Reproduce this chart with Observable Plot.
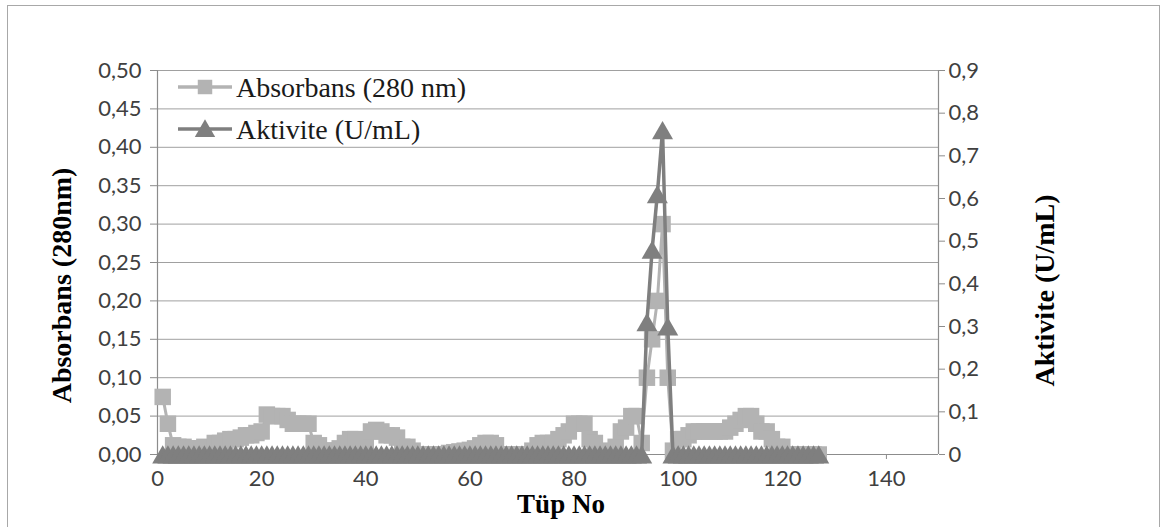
<!DOCTYPE html>
<html><head><meta charset="utf-8">
<script src="https://cdn.jsdelivr.net/npm/d3@7"></script>
<script src="https://cdn.jsdelivr.net/npm/@observablehq/plot@0.6"></script>
<style>
html,body{margin:0;padding:0;background:#fff;overflow:hidden;}
#wrap{position:relative;width:1165px;height:527px;}
#frame{position:absolute;left:7px;top:5px;width:1153px;height:545px;border:1.5px solid #a8a8a8;box-sizing:border-box;pointer-events:none;}
#chart{position:absolute;left:0;top:0;}
#legend{position:absolute;left:0;top:0;}
</style></head><body>
<div id="wrap"><div id="chart"></div><svg id="legend" width="520" height="160"></svg><div id="frame"></div></div>
<script>
const tubes = [
 1,2,3,4,5,6,7,8,9,10,
 11,12,13,14,15,16,17,18,19,20,
 21,22,23,24,25,26,27,28,29,30,
 31,32,33,34,35,36,37,38,39,40,
 41,42,43,44,45,46,47,48,49,50,
 51,52,53,54,55,56,57,58,59,60,
 61,62,63,64,65,66,67,68,69,70,
 71,72,73,74,75,76,77,78,79,80,
 81,82,83,84,85,86,87,88,89,90,
 91,92,93,94,95,96,97,98,99,100,
 101,102,103,104,105,106,107,108,109,110,
 111,112,113,114,115,116,117,118,119,120,
 121,122,123,124,125,126,127
];
const absorbans = [
 0.075,0.04,0.012,0.01,0.01,0.008,0.008,0.008,0.01,0,
 0.015,0.015,0.018,0.02,0.02,0.022,0.025,0.025,0.028,0.03,
 0.052,0.05,0.05,0.05,0.045,0.04,0.04,0.04,0.04,0.015,
 0.012,0.005,0.005,0.005,0.008,0.015,0.02,0.02,0.008,0.01,
 0.03,0.032,0.03,0.025,0.025,0.022,0.01,0.01,0.005,0,
 0,0,0,0,0,0.002,0.003,0.004,0.005,0.006,
 0.008,0.012,0.015,0.015,0.012,0,0,0,0,0,
 0,0.005,0.012,0.015,0.015,0.015,0.02,0.025,0.03,0.04,
 0.04,0.04,0.02,0.015,0,0,0.005,0.01,0.03,0.035,
 0.05,0.05,0.015,0.10,0.15,0.20,0.30,0.10,0.005,0.02,
 0.02,0.025,0.03,0.03,0.03,0.03,0.03,0.03,0.03,0.035,
 0.04,0.045,0.05,0.05,0.04,0.03,0.03,0.02,0.01,0.01,
 0,0,0,0,0,0,0
];
const aktivite = [
 0,0,0,0,0,0,0,0,0,0,
 0,0,0,0,0,0,0,0,0,0,
 0,0,0,0,0,0,0,0,0,0,
 0,0,0,0,0,0,0,0,0,0,
 0,0,0,0,0,0,0,0,0,0,
 0,0,0,0,0,0,0,0,0,0,
 0,0,0,0,0,0,0,0,0,0,
 0,0,0,0,0,0,0,0,0,0,
 0,0,0,0,0,0,0,0,0,0,
 0,0,0,0.31,0.48,0.61,0.76,0.30,0,0,
 0,0,0,0,0,0,0,0,0,0,
 0,0,0,0,0,0,0,0,0,0,
 0,0,0,0,0,0,0
];
const seriesNames = ["Absorbans (280 nm)", "Aktivite (U/mL)"];
const leftTicks = [0,0.05,0.10,0.15,0.20,0.25,0.30,0.35,0.40,0.45,0.50];
const leftTickLabels = ["0,00","0,05","0,10","0,15","0,20","0,25","0,30","0,35","0,40","0,45","0,50"];
const rightTicks = [0,0.1,0.2,0.3,0.4,0.5,0.6,0.7,0.8,0.9];
const rightTickLabels = ["0","0,1","0,2","0,3","0,4","0,5","0,6","0,7","0,8","0,9"];
const xTicks = [0,20,40,60,80,100,120,140];
const xTitle = "Tüp No";
const yLeftTitle = "Absorbans (280nm)";
const yRightTitle = "Aktivite (U/mL)";

const leftMax = 0.5, rightMax = 0.9;
const toLeft = v => v * leftMax / rightMax;

const absData = tubes.map((t, i) => ({t, v: absorbans[i]}));
const actData = tubes.map((t, i) => ({t, v: toLeft(aktivite[i])}));

const cAbs = "#b3b3b3", cAct = "#7f7f7f";
const tickFont = "Lato, 'Open Sans', sans-serif";
const titleFont = "'Liberation Serif', 'Times New Roman', serif";

const chart = Plot.plot({
  width: 1165, height: 527,
  marginLeft: 157, marginRight: 227, marginTop: 70, marginBottom: 73,
  style: {fontFamily: tickFont, fontSize: "22px", background: "transparent", overflow: "visible"},
  x: {domain: [0, 150]},
  y: {domain: [0, leftMax]},
  marks: [
    Plot.gridY(leftTicks, {stroke: "#a0a0a0", strokeOpacity: 1, strokeWidth: 1}),
    Plot.ruleX([0], {stroke: "#8c8c8c", strokeWidth: 1.2}),
    Plot.ruleX([150], {stroke: "#8c8c8c", strokeWidth: 1.2}),
    Plot.ruleY([0], {stroke: "#8c8c8c", strokeWidth: 1.2}),
    Plot.axisY(leftTicks, {anchor: "left", tickSize: 7, tickPadding: 9, stroke: "#8c8c8c", fill: "#404040",
      tickFormat: (d) => leftTickLabels[leftTicks.indexOf(d)], label: null, fontSize: 22}),
    Plot.axisY(rightTicks.map(toLeft), {anchor: "right", tickSize: 6, tickPadding: 4, stroke: "#8c8c8c", fill: "#404040",
      tickFormat: (d, i) => rightTickLabels[i], label: null, fontSize: 22}),
    Plot.axisX(xTicks, {anchor: "bottom", tickSize: 5, tickPadding: 11, stroke: "#8c8c8c", fill: "#404040", label: null, fontSize: 22}),
    Plot.line(absData, {x: "t", y: "v", stroke: cAbs, strokeWidth: 3}),
    Plot.dot(absData, {x: "t", y: "v", symbol: "square", r: 9.3, fill: cAbs, stroke: "none"}),
    Plot.line(actData, {x: "t", y: "v", stroke: cAct, strokeWidth: 3.5}),
    Plot.dot(actData, {x: "t", y: "v", symbol: "triangle", r: 7.8, fill: cAct, stroke: "none", dy: 3}),
    Plot.text([yLeftTitle], {frameAnchor: "left", dx: -95, dy: 23, rotate: -90, textAnchor: "middle",
      fontFamily: titleFont, fontWeight: "bold", fontSize: 28, fill: "#000"}),
    Plot.text([yRightTitle], {frameAnchor: "right", dx: 107, dy: 28, rotate: -90, textAnchor: "middle",
      fontFamily: titleFont, fontWeight: "bold", fontSize: 28, fill: "#000"}),
    Plot.text([xTitle], {frameAnchor: "bottom", dx: 13, dy: 58, textAnchor: "middle",
      fontFamily: titleFont, fontWeight: "bold", fontSize: 27, fill: "#000"})
  ]
});
document.getElementById("chart").appendChild(chart);

// legend
const lg = d3.select("#legend");
const colors = [cAbs, cAct];
const syms = [d3.symbolSquare, d3.symbolTriangle];
const symSizes = [210, 180];
seriesNames.forEach((name, i) => {
  const y = 87 + i * 42;
  lg.append("line").attr("x1", 178).attr("x2", 232).attr("y1", y).attr("y2", y)
    .attr("stroke", colors[i]).attr("stroke-width", 3.5);
  lg.append("path").attr("d", d3.symbol(syms[i], symSizes[i])())
    .attr("transform", `translate(205,${y + (i === 1 ? 2 : 0)})`).attr("fill", colors[i]);
  lg.append("text").attr("x", 236).attr("y", y).attr("dy", "0.34em")
    .attr("font-family", titleFont).attr("font-size", 28).attr("fill", "#1a1a1a").text(name);
});
</script>
</body></html>
